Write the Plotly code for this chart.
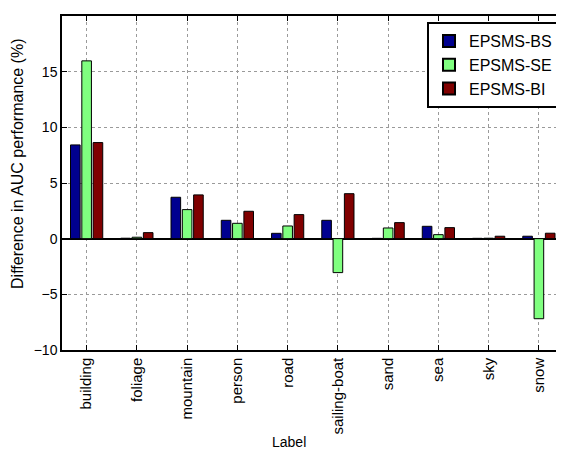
import plotly.graph_objects as go

categories = ["building", "foliage", "mountain", "person", "road",
              "sailing-boat", "sand", "sea", "sky", "snow"]
series_names = ["EPSMS-BS", "EPSMS-SE", "EPSMS-BI"]
bs_values = [8.42, 0.04, 3.72, 1.65, 0.48, 1.65, 0.03, 1.11, 0.03, 0.22]
se_values = [15.97, 0.13, 2.61, 1.38, 1.14, -3.05, 0.96, 0.36, 0.04, -7.19]
bi_values = [8.63, 0.54, 3.93, 2.46, 2.16, 4.04, 1.44, 0.99, 0.22, 0.49]
y_ticks = [-10, -5, 0, 5, 10, 15, 20]

colors = ["#00008F", "#80FF80", "#800000"]
FONT = "Liberation Sans, Arial, Helvetica, sans-serif"

fig = go.Figure()
for name, vals, col in zip(series_names, [bs_values, se_values, bi_values], colors):
    fig.add_trace(go.Bar(
        x=list(range(len(categories))), y=vals, name=name,
        marker=dict(color=col, line=dict(color="black", width=1)),
    ))

# The page body has an 8px margin; the figure is sized to fit the 564x450 window.
fig.update_layout(
    width=556, height=442,
    margin=dict(l=54, r=3, t=8, b=100),
    paper_bgcolor="white", plot_bgcolor="white",
    barmode="group", bargap=0.325, bargroupgap=0.15,
    font=dict(family=FONT, size=14, color="black"),
    showlegend=True,
    legend=dict(x=0.996, y=0.982, xanchor="right", yanchor="top",
                bgcolor="white", bordercolor="black", borderwidth=2,
                font=dict(size=16), tracegroupgap=0, itemsizing="constant"),
)

fig.update_xaxes(
    range=[-0.49, 9.44],
    tickmode="array", tickvals=list(range(len(categories))), ticktext=categories,
    tickangle=-90, tickfont=dict(size=15),
    showline=True, linecolor="black", linewidth=1.5, mirror="allticks",
    ticks="inside", ticklen=5, tickcolor="black",
    showgrid=True, gridcolor="#9a9a9a", griddash="dot", gridwidth=1,
    zeroline=False, automargin=False,
)
fig.update_yaxes(
    range=[-10, 20], tickvals=y_ticks, tickfont=dict(size=14),
    showline=True, linecolor="black", linewidth=1.5, mirror="allticks",
    ticks="inside", ticklen=5, tickcolor="black",
    showgrid=True, gridcolor="#9a9a9a", griddash="dot", gridwidth=1,
    zeroline=True, zerolinecolor="black", zerolinewidth=1.5,
    automargin=False,
)

fig.add_annotation(text="Difference in AUC performance (%)", xref="paper", yref="paper",
                   x=0, y=0.557, xshift=-44, xanchor="center", yanchor="middle",
                   textangle=-90, showarrow=False, font=dict(size=16))
fig.add_annotation(text="Label", xref="paper", yref="paper",
                   x=0.455, y=0, yshift=-92, xanchor="center", yanchor="middle",
                   showarrow=False, font=dict(size=14))

fig.write_html("out.html")
